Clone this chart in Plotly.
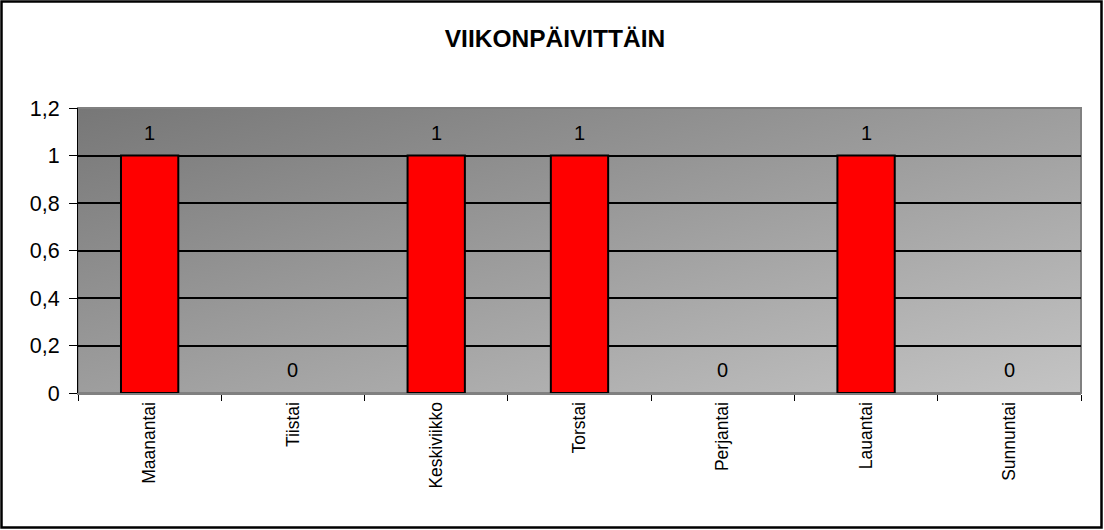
import base64
import plotly.graph_objects as go

# Data
days = ["Maanantai", "Tiistai", "Keskiviikko", "Torstai", "Perjantai", "Lauantai", "Sunnuntai"]
counts = [1, 0, 1, 1, 0, 1, 0]
tick_vals = [0, 0.2, 0.4, 0.6, 0.8, 1, 1.2]
tick_text = ["0", "0,2", "0,4", "0,6", "0,8", "1", "1,2"]

W, H = 1104, 530
ML, MR, MT, MB = 78, 23, 108, 137
pw, ph = W - ML - MR, H - MT - MB
FONT = "Liberation Sans, Arial"

# diagonal gray gradient for the plot area (Excel-ish fill)
svg = (
    '<svg xmlns="http://www.w3.org/2000/svg" width="100" height="100" preserveAspectRatio="none">'
    '<defs><linearGradient id="g" x1="0" y1="0" x2="1" y2="1">'
    '<stop offset="0" stop-color="#777777"/><stop offset="1" stop-color="#c4c4c4"/>'
    '</linearGradient></defs><rect width="100" height="100" fill="url(#g)"/></svg>'
)
bg_src = "data:image/svg+xml;base64," + base64.b64encode(svg.encode()).decode()

fig = go.Figure()
fig.add_trace(go.Bar(
    x=days, y=counts,
    marker=dict(color="#ff0000",
                line=dict(color="black", width=[2 if v else 0 for v in counts])),
    width=0.4,
    hoverinfo="x+y",
))

# value labels above each bar
labels = [dict(x=d, y=v, text=str(v), showarrow=False, yanchor="middle", yshift=23,
               font=dict(size=20, color="black", family=FONT))
          for d, v in zip(days, counts)]

fig.update_layout(
    width=W, height=H,
    margin=dict(l=ML, r=MR, t=MT, b=MB),
    paper_bgcolor="white",
    plot_bgcolor="rgba(0,0,0,0)",
    font=dict(family=FONT, color="black"),
    showlegend=False,
    title=dict(text="<b>VIIKONPÄIVITTÄIN</b>", x=555 / W, xref="container", xanchor="center",
               y=1 - 38 / H, yanchor="middle", font=dict(size=24.5)),
    images=[dict(source=bg_src, xref="paper", yref="paper", x=0, y=1, sizex=1, sizey=1,
                 sizing="stretch", layer="below", xanchor="left", yanchor="top")],
    annotations=labels,
    xaxis=dict(
        tickangle=-90, tickfont=dict(size=17.5), tickson="boundaries",
        ticks="outside", ticklen=6, tickcolor="black", tickwidth=1,
        showline=True, linecolor="#808080", linewidth=2,
        showgrid=False, range=[-0.5, 6.5],
    ),
    yaxis=dict(
        range=[0, 1.2], tickvals=tick_vals, ticktext=tick_text,
        tickfont=dict(size=21.5), ticks="outside", ticklen=8, tickcolor="black",
        ticklabelstandoff=5,
        showline=True, linecolor="black", linewidth=1,
        showgrid=True, gridcolor="black", gridwidth=2, zeroline=False,
    ),
    shapes=[
        # gray frame of the plot area
        dict(type="rect", xref="paper", yref="paper", x0=0, y0=0, x1=1, y1=1,
             line=dict(color="#808080", width=2), layer="below"),
        # black border around the whole chart
        dict(type="rect", xref="paper", yref="paper",
             x0=-(ML - 1.5) / pw, x1=1 + (MR - 2.5) / pw,
             y0=-(MB - 2.5) / ph, y1=1 + (MT - 1.5) / ph,
             line=dict(color="black", width=2.5)),
    ],
)

fig.write_html("out.html", config={"displayModeBar": False},
               post_script="document.body.style.margin='0';")
